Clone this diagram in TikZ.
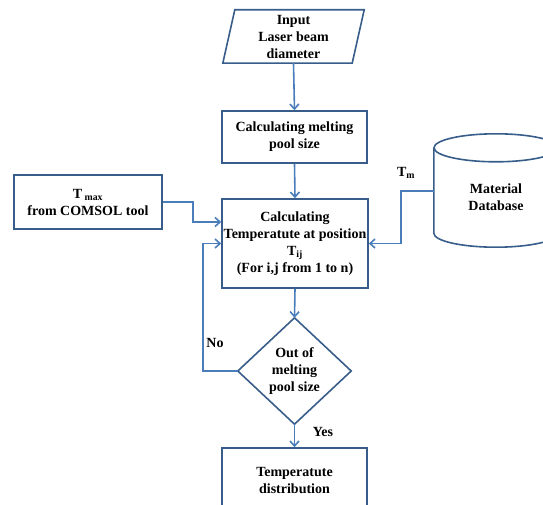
\documentclass[tikz,border=0pt]{standalone}
\usepackage{fontspec}
\setmainfont{Liberation Serif}
\usetikzlibrary{arrows.meta,positioning,calc}

\definecolor{boxblue}{RGB}{56,93,138}
\definecolor{linkblue}{RGB}{74,126,187}

\begin{document}
\begin{tikzpicture}[x=1pt, y=-1pt,
  every node/.style={font=\fontsize{14}{17}\selectfont\bfseries, align=center, inner sep=0pt},
  outline/.style={draw=boxblue, line width=1.6pt},
  box/.style={outline, minimum width=145pt, minimum height=52pt},
  link/.style={draw=linkblue, line width=1.6pt, -{Straight Barb[length=5pt,width=9pt]}}]

  \useasboundingbox (0,0) rectangle (543,505);

  % input (parallelogram round a plain node)
  \node[minimum width=141pt, minimum height=53pt] (inp) at (293.5,36.5) {Input\\Laser beam\\diameter};
  \draw[outline] (inp.south west) -- ([xshift=-12pt]inp.south east) -- (inp.north east) -- ([xshift=12pt]inp.north west) -- cycle;

  % process boxes
  \node[box] (melt) at (294.5,137) {Calculating melting\\pool size};
  \node[box, minimum width=146pt, minimum height=89pt] (calc) at (295,243.5) {Calculating\\Temperatute at position\\T\textsubscript{ij}\\(For i,j from 1 to n)};
  \node[box, minimum width=148pt, minimum height=54pt] (tmax) at (88,202) {T\,\textsubscript{max}\\from COMSOL tool};
  \node[box, minimum height=65pt] (dist) at (294.5,480.5) {Temperatute\\distribution};

  % decision
  \node[minimum width=113pt, minimum height=106pt] (dec) at (294.5,371) {Out of\\melting\\pool size};
  \draw[outline] (dec.north) -- (dec.east) -- (dec.south) -- (dec.west) -- cycle;

  % material database (cylinder)
  \node[minimum width=124pt, minimum height=99pt] (db) at (496,197.5) {Material\\Database};
  \draw[outline] (db.north west) -- ([yshift=14pt]db.south west) arc[start angle=180, end angle=360, x radius=62pt, y radius=14pt] -- (db.north east);
  \draw[outline] (db.north) ellipse[x radius=62pt, y radius=14pt];

  % main flow: top to bottom
  \draw[link] (inp.south) -- (melt.north);
  \draw[link] (melt.south) -- (calc.north);
  \draw[link] (calc.south) -- (dec.north);
  \draw[link] (dec.south) -- (dist.north);

  % side inputs
  \draw[link] (tmax.east) -- ++(30pt,0) |- ([yshift=21.5pt]calc.west);
  \draw[link] ([yshift=6.5pt]db.west) -- ++(-33pt,0) |- (calc.east);
  \node (tm) at (406,173) {T\textsubscript{m}};

  % loop back
  \draw[link] (dec.west) -- ++(-35pt,0) |- (calc.west);
  \node (no) at (215,343) {No};
  \node (yes) at (323,432) {Yes};
\end{tikzpicture}
\end{document}
